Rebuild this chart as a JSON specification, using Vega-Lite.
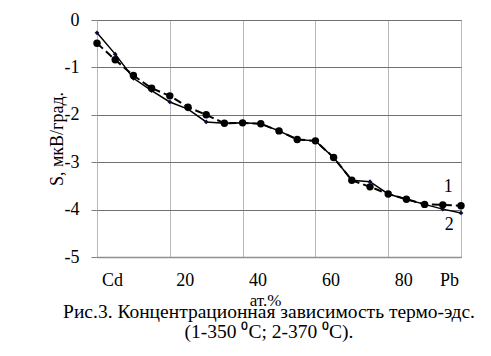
{
  "$schema": "https://vega.github.io/schema/vega-lite/v6.json",
  "autosize": {"type": "none"},
  "padding": {"left": 97, "top": 20, "right": 30, "bottom": 99},
  "width": 364,
  "height": 237,
  "config": {
    "view": {"stroke": "#b0b0b0", "strokeWidth": 1},
    "font": "Liberation Serif"
  },
  "title": {
    "text": "Рис.3. Концентрационная зависимость термо-эдс.",
    "subtitle": "(1-350 ⁰C; 2-370 ⁰C).",
    "orient": "bottom",
    "anchor": "middle",
    "fontSize": 19.5,
    "fontWeight": "normal",
    "color": "black",
    "subtitleFontSize": 19.5,
    "subtitleColor": "black",
    "subtitlePadding": 0,
    "offset": -5,
    "dx": -10
  },
  "datasets": {
    "series": [
      {"x": 0, "s": -0.49, "series": "1"},
      {"x": 5, "s": -0.84, "series": "1"},
      {"x": 10, "s": -1.17, "series": "1"},
      {"x": 15, "s": -1.44, "series": "1"},
      {"x": 20, "s": -1.60, "series": "1"},
      {"x": 25, "s": -1.84, "series": "1"},
      {"x": 30, "s": -2.00, "series": "1"},
      {"x": 35, "s": -2.18, "series": "1"},
      {"x": 40, "s": -2.17, "series": "1"},
      {"x": 45, "s": -2.19, "series": "1"},
      {"x": 50, "s": -2.34, "series": "1"},
      {"x": 55, "s": -2.52, "series": "1"},
      {"x": 60, "s": -2.55, "series": "1"},
      {"x": 65, "s": -2.90, "series": "1"},
      {"x": 70, "s": -3.38, "series": "1"},
      {"x": 75, "s": -3.52, "series": "1"},
      {"x": 80, "s": -3.67, "series": "1"},
      {"x": 85, "s": -3.78, "series": "1"},
      {"x": 90, "s": -3.89, "series": "1"},
      {"x": 95, "s": -3.90, "series": "1"},
      {"x": 100, "s": -3.92, "series": "1"},
      {"x": 0, "s": -0.27, "series": "2"},
      {"x": 5, "s": -0.72, "series": "2"},
      {"x": 10, "s": -1.23, "series": "2"},
      {"x": 15, "s": -1.49, "series": "2"},
      {"x": 20, "s": -1.73, "series": "2"},
      {"x": 25, "s": -1.88, "series": "2"},
      {"x": 30, "s": -2.15, "series": "2"},
      {"x": 35, "s": -2.18, "series": "2"},
      {"x": 40, "s": -2.17, "series": "2"},
      {"x": 45, "s": -2.19, "series": "2"},
      {"x": 50, "s": -2.34, "series": "2"},
      {"x": 55, "s": -2.52, "series": "2"},
      {"x": 60, "s": -2.55, "series": "2"},
      {"x": 65, "s": -2.90, "series": "2"},
      {"x": 70, "s": -3.38, "series": "2"},
      {"x": 75, "s": -3.41, "series": "2"},
      {"x": 80, "s": -3.67, "series": "2"},
      {"x": 85, "s": -3.78, "series": "2"},
      {"x": 90, "s": -3.89, "series": "2"},
      {"x": 95, "s": -3.99, "series": "2"},
      {"x": 100, "s": -4.07, "series": "2"}
    ],
    "labels": [
      {"x": 96.5, "s": -3.53, "label": "1"},
      {"x": 96.8, "s": -4.32, "label": "2"}
    ]
  },
  "data": {"name": "series"},
  "encoding": {
    "x": {
      "field": "x",
      "type": "quantitative",
      "scale": {"domain": [0, 100], "nice": false, "zero": false},
      "axis": {
        "values": [0, 20, 40, 60, 80, 100],
        "labelExpr": "datum.value == 0 ? 'Cd' : datum.value == 100 ? 'Pb' : datum.label",
        "labelOffset": {"condition": {"test": "datum.value == 100", "value": -12}, "value": 15},
        "labelOverlap": false,
        "labelFlush": false,
        "labelBound": false,
        "labelFontSize": 18,
        "labelColor": "black",
        "labelPadding": 14,
        "ticks": false,
        "domainColor": "#909090",
        "domainWidth": 1.5,
        "gridColor": "#bdb5bd",
        "title": "ат.%",
        "titleFontSize": 17,
        "titleFontWeight": "normal",
        "titleColor": "black",
        "titleX": 168,
        "titlePadding": 3
      }
    },
    "y": {
      "field": "s",
      "type": "quantitative",
      "scale": {"domain": [-5, 0], "nice": false, "zero": false},
      "axis": {
        "values": [-5, -4, -3, -2, -1, 0],
        "labelExpr": "replace(datum.label, '−', '-')",
        "labelFontSize": 18,
        "labelColor": "black",
        "labelPadding": 12,
        "tickSize": 6,
        "tickColor": "#808080",
        "domain": false,
        "gridColor": "#707070",
        "title": "S, мкВ/град.",
        "titleFontSize": 18,
        "titleFontWeight": "normal",
        "titleColor": "black",
        "titlePadding": -2
      }
    }
  },
  "layer": [
    {
      "transform": [{"filter": "datum.series == '2'"}],
      "mark": {"type": "line", "color": "black", "strokeWidth": 1.5}
    },
    {
      "transform": [{"filter": "datum.series == '2'"}],
      "mark": {"type": "point", "shape": "diamond", "filled": true, "size": 22, "color": "#0a0a3a", "opacity": 1}
    },
    {
      "transform": [{"filter": "datum.series == '1'"}],
      "mark": {"type": "line", "color": "black", "strokeWidth": 2, "strokeDash": [8, 4]}
    },
    {
      "transform": [{"filter": "datum.series == '1'"}],
      "mark": {"type": "point", "shape": "circle", "filled": true, "size": 55, "color": "black", "opacity": 1}
    },
    {
      "data": {"name": "labels"},
      "mark": {"type": "text", "fontSize": 18, "color": "black", "baseline": "middle", "align": "center"},
      "encoding": {"text": {"field": "label"}}
    }
  ]
}
